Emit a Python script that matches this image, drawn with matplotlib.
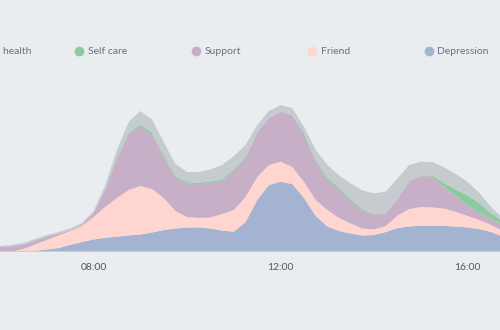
import numpy as np
import matplotlib
matplotlib.use("Agg")
import matplotlib.pyplot as plt
from matplotlib.lines import Line2D

plt.rcParams["font.family"] = ["Lato", "DejaVu Sans"]

# quarter-hour samples (stack order: bottom -> top)
times = ["06:00", "06:15", "06:30", "06:45", "07:00", "07:15", "07:30", "07:45",
         "08:00", "08:15", "08:30", "08:45", "09:00", "09:15", "09:30", "09:45",
         "10:00", "10:15", "10:30", "10:45", "11:00", "11:15", "11:30", "11:45",
         "12:00", "12:15", "12:30", "12:45", "13:00", "13:15", "13:30", "13:45",
         "14:00", "14:15", "14:30", "14:45", "15:00", "15:15", "15:30", "15:45",
         "16:00", "16:15", "16:30", "16:45", "17:00"]
depression = [0, 0.3, 0.5, 1.2, 2.5, 4, 7, 10, 12.5, 14.2, 15.3, 16.5, 17.5, 19.5, 22,
              23.5, 24.5, 24.5, 23.5, 21.5, 20.3, 30, 52, 67, 70.3, 68, 54, 36, 25.5,
              21, 18.5, 16.5, 17, 20, 24, 25.5, 26.3, 26.2, 26, 25.5, 24.5, 23, 20, 15.5, 11]
friend = [0, 0.4, 2.5, 6.3, 9.5, 12.5, 14, 16, 22.5, 30.8, 38.7, 45.5, 48.5, 43.5, 32,
          17.5, 10.5, 9.5, 11, 16.5, 21.7, 25, 23, 20, 20, 17, 16, 16, 16.5,
          13, 10, 7, 5.5, 6, 12.5, 17.5, 18.7, 18.3, 17.5, 14.5, 11.5, 9, 7, 5.5, 4]
support = [5, 5, 4.5, 4, 3.5, 2, 1, 1.5, 4, 17.5, 39.5, 55.5, 59, 54.5, 41,
           33, 33.5, 33.8, 34.5, 33.5, 39.5, 39, 44.5, 47, 50, 51.5, 48, 39, 29.5,
           28, 22.5, 17.5, 15, 12.5, 16.5, 28, 31, 30.5, 21.2, 15.3, 10.6, 7, 6, 6.5, 5]
self_care = [0, 0, 0, 0, 0, 0, 0, 0, 0, 0.5, 1.5, 1.5, 2, 2, 2,
             2, 1.5, 1.5, 1.5, 1.5, 1.5, 1, 0.5, 0, 0, 0.5, 1.5, 1.5, 2.5,
             2, 2, 1.5, 0.5, 0, 0, 0, 0.3, 1.5, 4.3, 7, 9.7, 10, 5.7, 3.5, 1]
mental_health = [1, 1.5, 1.5, 1.5, 1.5, 1.5, 1.5, 1.5, 2, 4, 7, 11, 14, 13, 13,
                 12, 10, 10.7, 12, 14, 13, 12, 7, 7, 6.7, 7, 5.5, 9.5, 13,
                 12.5, 15.5, 19, 20.5, 22, 20.5, 16, 14, 13.5, 15.5, 15.7, 13.7, 10, 6.3, 3, 1]

series_names = ["Depression", "Friend", "Support", "Self care", "Mental health"]
colors = ["#a3b3d1", "#ffd6cf", "#c8afc8", "#8ccaa0", "#c6cbcf"]
tick_hours = [8, 12, 16]
tick_labels = ["08:00", "12:00", "16:00"]

BG = "#eaedf0"


def to_hours(t):
    h, m = t.split(":")
    return int(h) + int(m) / 60


x = np.array([to_hours(t) for t in times])

fig = plt.figure(figsize=(5, 3.3), dpi=100, facecolor=BG)
ax = fig.add_axes([0, 78 / 330, 1, 192 / 330])
ax.set_facecolor(BG)

ax.stackplot(x, depression, friend, support, self_care, mental_health,
             colors=colors, linewidth=0)
ax.axhline(0, color="#c5d0df", lw=1.5, zorder=3)

ax.set_xlim(6.0, 16.69)
ax.set_ylim(0, 192)
for s in ax.spines.values():
    s.set_visible(False)
ax.set_yticks([])
ax.set_xticks(tick_hours)
ax.set_xticklabels(tick_labels)
ax.tick_params(axis="x", length=0, pad=8, labelsize=7.5, labelcolor="#555555")

# legend row across the top, top layer first (first item runs off the left edge)
ly = 1 - 51 / 330
legend_px = [-41.5, 79, 195.5, 312, 428.5]
for px, name, c in zip(legend_px, series_names[::-1], colors[::-1]):
    cx = px / 500
    fig.add_artist(Line2D([cx], [ly], marker="o", ms=6, color=c, linestyle="",
                          transform=fig.transFigure))
    fig.text(cx + 9 / 500, ly, name, va="center", ha="left", fontsize=7.5,
             color="#64737f")

fig.savefig("out.png", dpi=100, facecolor=BG)
